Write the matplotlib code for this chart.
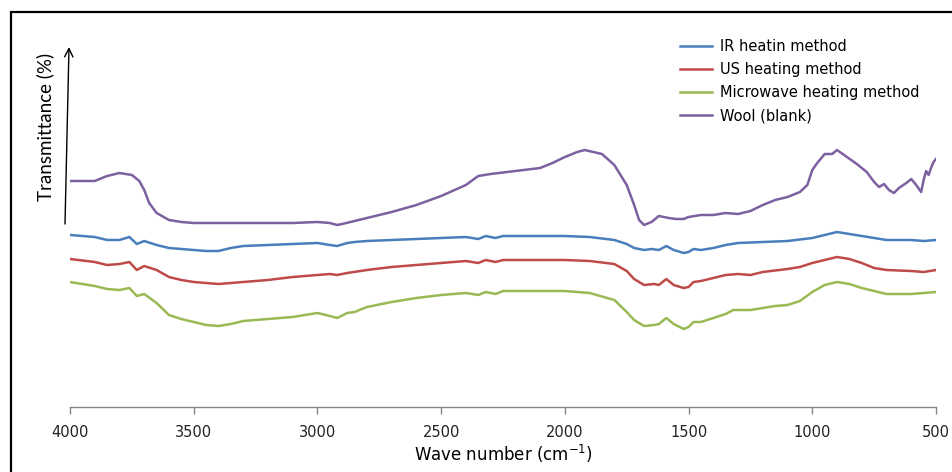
import matplotlib
matplotlib.use("Agg")
import matplotlib.pyplot as plt
from matplotlib.patches import Rectangle, FancyArrowPatch

plt.rcParams['font.family'] = ['DejaVu Sans']

# ---- data (transmittance, arbitrary units) ----
wool_wn = [4000, 3950, 3900, 3850, 3800, 3750, 3720, 3700, 3680, 3650, 3600, 3550, 3500, 3400, 3300,
           3200, 3100, 3000, 2950, 2920, 2900, 2850, 2800, 2700, 2600, 2500, 2400, 2350, 2300, 2200,
           2100, 2050, 2000, 1950, 1920, 1850, 1800, 1750, 1720, 1700, 1680, 1650, 1620, 1580, 1550,
           1520, 1500, 1450, 1400, 1350, 1300, 1250, 1200, 1150, 1100, 1050, 1020, 1000, 980, 950,
           920, 900, 860, 820, 780, 750, 730, 710, 690, 670, 650, 620, 600, 580, 560, 550, 540, 530,
           520, 510, 500]
wool_t = [229, 229, 229, 234, 237, 235, 229, 220, 207, 197, 190, 188, 187, 187, 187,
          187, 187, 188, 187, 185, 186, 189, 192, 198, 205, 214, 225, 234, 236, 239,
          242, 247, 253, 258, 260, 256, 245, 225, 205, 190, 185, 188, 194, 192, 191,
          191, 193, 195, 195, 197, 196, 199, 205, 210, 213, 218, 225, 240, 247, 256,
          256, 260, 253, 246, 238, 228, 223, 226, 220, 217, 222, 227, 231, 225, 218, 230, 239, 235,
          242, 248, 251]

ir_wn = [4000, 3900, 3850, 3800, 3760, 3730, 3700, 3650, 3600, 3550, 3500, 3450, 3400, 3350, 3300,
         3200, 3100, 3000, 2950, 2920, 2880, 2850, 2800, 2700, 2600, 2500, 2400, 2350, 2320, 2280,
         2250, 2200, 2000, 1900, 1800, 1750, 1720, 1680, 1650, 1620, 1590, 1560, 1520, 1500, 1480,
         1450, 1400, 1350, 1300, 1200, 1100, 1000, 950, 900, 850, 800, 750, 700, 650, 600, 550, 500]
ir_t = [175, 173, 170, 170, 173, 166, 169, 165, 162, 161, 160, 159, 159, 162, 164,
        165, 166, 167, 165, 164, 167, 168, 169, 170, 171, 172, 173, 171, 174, 172,
        174, 174, 174, 173, 170, 166, 162, 160, 161, 160, 164, 160, 157, 158, 161,
        160, 162, 165, 167, 168, 169, 172, 175, 178, 176, 174, 172, 170, 170, 170, 169, 170]

us_wn = [4000, 3900, 3850, 3800, 3760, 3730, 3700, 3650, 3600, 3550, 3500, 3450, 3400, 3300, 3200,
         3100, 3000, 2950, 2920, 2880, 2800, 2700, 2600, 2500, 2400, 2350, 2320, 2280, 2250, 2000,
         1900, 1800, 1750, 1720, 1680, 1640, 1620, 1590, 1560, 1520, 1500, 1480, 1450, 1400, 1350,
         1300, 1250, 1200, 1100, 1050, 1000, 950, 900, 850, 800, 750, 700, 600, 550, 500]
us_t = [151, 148, 145, 146, 148, 140, 144, 140, 133, 130, 128, 127, 126, 128, 130,
        133, 135, 136, 135, 137, 140, 143, 145, 147, 149, 147, 150, 148, 150, 150,
        149, 146, 139, 131, 125, 126, 125, 131, 125, 122, 123, 128, 129, 132, 135,
        136, 135, 138, 141, 143, 147, 150, 153, 151, 147, 142, 140, 139, 138, 140]

mw_wn = [4000, 3900, 3850, 3800, 3760, 3730, 3700, 3650, 3600, 3550, 3500, 3450, 3400, 3350, 3300,
         3200, 3100, 3000, 2950, 2920, 2880, 2850, 2800, 2700, 2600, 2500, 2400, 2350, 2320, 2280,
         2250, 2000, 1900, 1800, 1750, 1720, 1680, 1640, 1620, 1590, 1560, 1520, 1500, 1480, 1450,
         1400, 1350, 1320, 1250, 1200, 1150, 1100, 1050, 1000, 950, 900, 850, 800, 750, 700, 600,
         550, 500]
mw_t = [128, 124, 121, 120, 122, 114, 116, 107, 95, 91, 88, 85, 84, 86, 89,
        91, 93, 97, 94, 92, 97, 98, 103, 108, 112, 115, 117, 115, 118, 116,
        119, 119, 117, 110, 98, 90, 84, 85, 86, 92, 86, 81, 83, 88, 88,
        92, 96, 100, 100, 102, 104, 105, 109, 118, 125, 128, 126, 122, 119, 116, 116,
        117, 118]

labels = ["IR heatin method", "US heating method", "Microwave heating method", "Wool (blank)"]
colors = ["#4A7EBB", "#BE4B48", "#98B954", "#7D60A0"]
xticks = [4000, 3500, 3000, 2500, 2000, 1500, 1000, 500]

W, H = 952, 472
fig = plt.figure(figsize=(W / 100, H / 100), dpi=100)
ax = fig.add_axes([70 / W, 1 - 407 / H, (936 - 70) / W, (407 - 27) / H])

series = [(ir_wn, ir_t), (us_wn, us_t), (mw_wn, mw_t), (wool_wn, wool_t)]
for (wn, t), lab, c in zip(series, labels, colors):
    ax.plot(wn, t, color=c, lw=1.8, label=lab, solid_joinstyle='round')

ax.set_xlim(4000, 500)
ax.set_ylim(3, 383)
ax.set_xticks(xticks)
ax.set_xticklabels([str(v) for v in xticks], fontsize=10.5)
ax.set_yticks([])
for s in ['top', 'right', 'left']:
    ax.spines[s].set_visible(False)
ax.spines['bottom'].set_color('#868686')
ax.spines['bottom'].set_linewidth(1.0)
ax.tick_params(axis='x', direction='out', length=5, color='#868686', width=1.0,
               pad=8, labelcolor='#222222')
ax.set_xlabel("Wave number (cm$^{-1}$)", fontsize=12, labelpad=2)

# y-axis arrow and label
arrow = FancyArrowPatch((65 / W, 1 - 224 / H), (69 / W, 1 - 47 / H),
                        transform=fig.transFigure, arrowstyle='->', color='black',
                        lw=1.0, mutation_scale=15, shrinkA=0, shrinkB=0)
fig.add_artist(arrow)
fig.text(45 / W, 1 - 127 / H, "Transmittance (%)", family='Lato', rotation=90,
         ha='center', va='center', fontsize=13.5)

leg = ax.legend(loc='upper left', bbox_to_anchor=(680 / W, 1 - 39 / H),
                bbox_transform=fig.transFigure, frameon=False, fontsize=10.5,
                handlelength=2.2, handletextpad=0.55, labelspacing=0.56, borderpad=0,
                borderaxespad=0)

# figure border
fig.add_artist(Rectangle((11 / W, -0.2), 1.5, 1 - 12 / H + 0.2, transform=fig.transFigure,
                         fill=False, edgecolor='black', lw=1.6))

fig.savefig("out.png", dpi=100)
